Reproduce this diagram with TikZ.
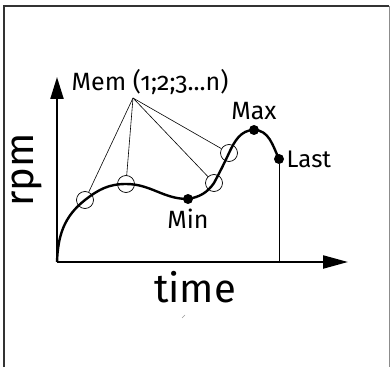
\documentclass[tikz,border=0pt]{standalone}
\usepackage{fontspec}
\setmainfont{Fira Sans}[Numbers=OldStyle]
\usetikzlibrary{arrows.meta, positioning}

\begin{document}
\begin{tikzpicture}[x=1pt, y=1pt, node distance=1pt]

    \useasboundingbox (0,0) rectangle (390,367);

    % Frame
    \draw[line width=2pt, black!80] (4,0) -- (4,360.5) -- (389,360.5);
    \draw[line width=1pt, black!45] (389,360.5) -- (389,0);

    % Axes
    \coordinate (origin) at (57,105);
    \coordinate (ytip) at (57,290);
    \coordinate (xtip) at (348,105);
    \draw[line width=2.2pt, -{Triangle[length=22pt, width=13pt]}] (origin) -- (ytip);
    \draw[line width=2.2pt, -{Triangle[length=25pt, width=13pt]}] (origin) -- (xtip);

    % Memory samples and extrema
    \node[draw, circle, minimum size=17pt, inner sep=0pt, line width=0.7pt] (mem_a) at (85,167) {};
    \node[draw, circle, minimum size=17pt, inner sep=0pt, line width=0.7pt] (mem_b) at (126,183) {};
    \node[draw, circle, minimum size=17pt, inner sep=0pt, line width=0.7pt] (mem_c) at (214,184) {};
    \node[draw, circle, minimum size=17pt, inner sep=0pt, line width=0.7pt] (mem_d) at (229,214) {};
    \node[fill, circle, minimum size=10pt, inner sep=0pt] (min_dot) at (188,168) {};
    \node[fill, circle, minimum size=10pt, inner sep=0pt] (max_dot) at (254,237) {};
    \node[fill, circle, minimum size=10pt, inner sep=0pt] (last_dot) at (279,208) {};

    % Curve
    \draw[line width=2.4pt] (origin) to[out=88, in=218] (mem_a.center)
        to[out=38, in=180] (mem_b.center)
        to[out=0, in=180] (min_dot.center)
        to[out=10, in=235] (mem_c.center)
        to[out=62, in=245] (mem_d.center)
        to[out=65, in=180] (max_dot.center)
        to[out=0, in=115] (last_dot.center);

    % Last value drop line
    \coordinate (last_foot) at (279,105);
    \draw[line width=0.7pt] (last_dot) -- (last_foot);

    % Labels
    \node[font=\fontsize{25}{30}\selectfont] (mem_label) at (150,285) {Mem (1;2;3...n)};
    \node[above=of max_dot, font=\fontsize{25}{30}\selectfont] (max_label) {Max};
    \node[below=of min_dot, font=\fontsize{25}{30}\selectfont] (min_label) {Min};
    \node[right=-1pt of last_dot, font=\fontsize{24}{29}\selectfont] (last_label) {Last};
    \node[rotate=90, font=\fontsize{40}{48}\selectfont] (rpm_label) at (27,197) {rpm};
    \node[font=\fontsize{40}{48}\selectfont] (time_label) at (195,80) {time};

    % Leader lines
    \coordinate (mem_hub) at (133,269);
    \draw[line width=0.6pt] (mem_hub) -- (mem_a);
    \draw[line width=0.6pt] (mem_hub) -- (mem_b);
    \draw[line width=0.6pt] (mem_hub) -- (mem_c);
    \draw[line width=0.6pt] (mem_hub) -- (mem_d);

    % Speck
    \draw[line width=0.5pt, black!40] (182,49) -- (185,52);

\end{tikzpicture}
\end{document}
